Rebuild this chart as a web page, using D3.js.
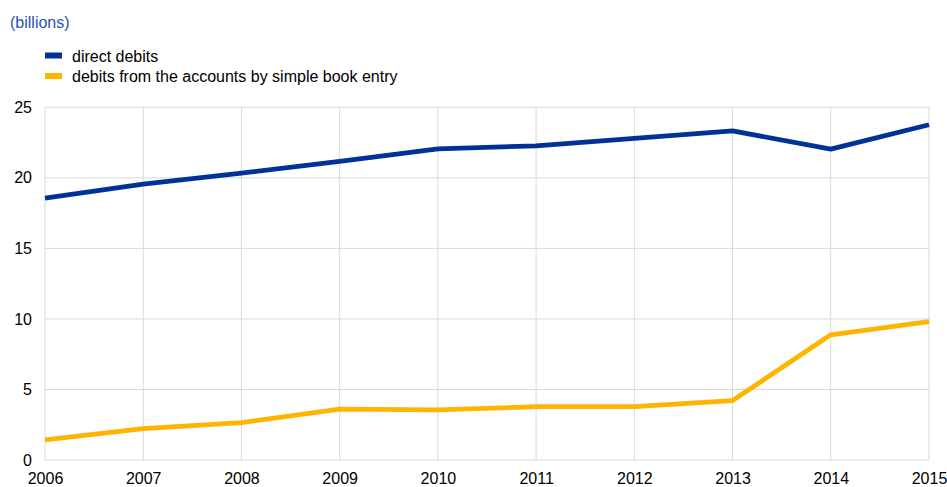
<!DOCTYPE html>
<html><head><meta charset="utf-8">
<script src="https://cdn.jsdelivr.net/npm/d3@7/dist/d3.min.js"></script>
<style>body{margin:0;background:#fff}svg{display:block;font-family:"Liberation Sans",Arial,sans-serif}</style>
</head><body><svg id="c" width="947" height="487"></svg>
<script>
const years = [2006,2007,2008,2009,2010,2011,2012,2013,2014,2015];
const directDebits = [18.56,19.55,20.33,21.16,22.06,22.27,22.8,23.33,22.03,23.76];
const bookEntry = [1.42,2.22,2.65,3.6,3.55,3.78,3.78,4.21,8.87,9.81];
const yTicks = [0,5,10,15,20,25];
const seriesNames = ["direct debits","debits from the accounts by simple book entry"];
const colors = ["#003299","#FFB400"];

const svg = d3.select("#c");
const x = d3.scaleLinear().domain([2006,2015]).range([45,929]);
const y = d3.scaleLinear().domain([0,25]).range([460,107.3]);

// grid
svg.append("g").selectAll("line").data(yTicks).join("line")
  .attr("x1",45).attr("x2",929).attr("y1",d=>y(d)).attr("y2",d=>y(d))
  .attr("stroke","#d9d9d9").attr("stroke-width",1);
svg.append("g").selectAll("line").data(years).join("line")
  .attr("x1",d=>x(d)).attr("x2",d=>x(d)).attr("y1",y(25)).attr("y2",y(0))
  .attr("stroke","#d9d9d9").attr("stroke-width",1);

// axes labels
const yAxis = d3.axisLeft(y).tickValues(yTicks).tickSize(0).tickPadding(13);
const ga = svg.append("g").attr("transform","translate(45,0)").call(yAxis);
ga.select(".domain").remove();
ga.selectAll("text").attr("font-size",16).attr("fill","#000").attr("font-family","Liberation Sans, Arial, sans-serif");

const xAxis = d3.axisBottom(x).tickValues(years).tickFormat(d3.format("d")).tickSize(0).tickPadding(12.5);
const gx = svg.append("g").attr("transform","translate(0,460)").call(xAxis);
gx.select(".domain").remove();
gx.selectAll("text").attr("font-size",16).attr("fill","#000").attr("font-family","Liberation Sans, Arial, sans-serif");

// lines
const line = d3.line().x((d,i)=>x(years[i])).y(d=>y(d));
[directDebits,bookEntry].forEach((s,k)=>{
  svg.append("path").datum(s).attr("d",line).attr("fill","none")
    .attr("stroke",colors[k]).attr("stroke-width",4.8).attr("stroke-linejoin","round");
});

// title
svg.append("text").attr("x",10).attr("y",28).attr("font-size",16).attr("fill","#2a4fb5").text("(billions)");

// legend
seriesNames.forEach((n,k)=>{
  const base = 61.5 + k*20.5;
  svg.append("rect").attr("x",45).attr("y",base-9).attr("width",17).attr("height",6).attr("fill",colors[k]);
  svg.append("text").attr("x",72).attr("y",base).attr("font-size",16).attr("fill","#000").text(n);
});
</script></body></html>
